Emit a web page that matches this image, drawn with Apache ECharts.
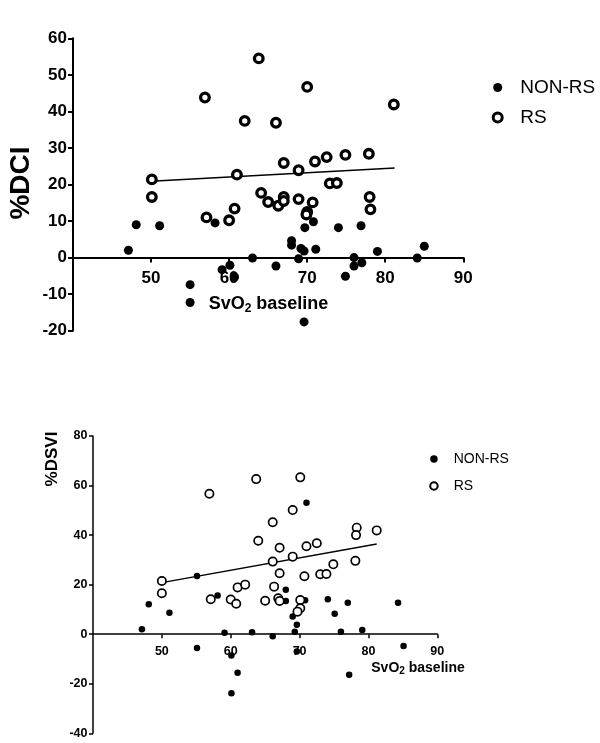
<!DOCTYPE html>
<html>
<head>
<meta charset="utf-8">
<script src="https://cdn.jsdelivr.net/npm/echarts@6/dist/echarts.min.js"></script>
<style>html,body{margin:0;padding:0;background:#fff}#c{width:600px;height:743px}</style>
</head>
<body>
<div id="c"></div>
<script>
// ---- Data: %DCI vs SvO2 baseline ----
const dciNonRS = [[47.1,2.0],[48.1,9.0],[51.1,8.7],[55.0,-7.4],[55.0,-12.3],[58.2,9.5],[59.1,-3.3],[60.1,-2.1],[60.7,-5.3],[63.0,-0.1],[66.0,-2.3],[68.0,4.6],[68.0,3.4],[69.7,8.2],[69.2,2.5],[69.6,1.8],[68.9,-0.3],[69.6,-17.6],[70.8,9.8],[71.1,2.3],[74.0,8.2],[74.9,-5.1],[76.0,0.0],[76.0,-2.3],[77.0,-1.4],[76.9,8.7],[79.0,1.7],[84.1,-0.1],[85.0,3.1]];
const dciRS = [[63.8,54.5],[56.9,43.8],[70.0,46.7],[81.1,41.9],[62.0,37.4],[66.0,36.9],[50.1,21.4],[50.1,16.6],[61.0,22.7],[67.0,25.9],[68.9,23.9],[71.0,26.3],[72.5,27.5],[74.9,28.1],[77.9,28.4],[72.9,20.3],[73.8,20.4],[64.1,17.7],[65.0,15.2],[66.3,14.2],[67.0,16.6],[67.0,15.5],[68.9,16.0],[70.7,15.1],[70.0,12.5],[69.9,11.8],[78.0,16.6],[78.1,13.2],[57.1,11.0],[60.0,10.2],[60.7,13.4]];
const dciFit = [[50,20.9],[81.2,24.5]];
const dciYTicks = [-20,-10,0,10,20,30,40,50,60];

// ---- Data: %DSVI vs SvO2 baseline ----
const dsviNonRS = [[47.1,2.0],[48.1,12.1],[51.1,8.7],[55.1,23.5],[55.1,-5.6],[58.1,15.6],[59.1,0.6],[60.1,-8.6],[61.0,-15.6],[60.1,-23.8],[63.1,0.8],[66.1,-0.8],[68.0,17.9],[68.0,13.4],[69.0,7.1],[69.6,3.8],[69.3,1.0],[69.6,-7.0],[71.0,53.1],[70.8,13.7],[74.1,14.1],[75.1,8.3],[76.0,1.0],[77.0,12.7],[77.2,-16.4],[79.1,1.7],[84.3,12.7],[85.1,-4.8]];
const dsviRS = [[63.7,62.6],[70.1,63.3],[56.9,56.7],[69.0,50.1],[66.1,45.2],[78.3,43.0],[78.2,40.0],[81.2,41.9],[64.0,37.7],[67.1,34.9],[71.0,35.5],[72.5,36.7],[66.1,29.3],[69.0,31.3],[78.1,29.6],[74.9,28.2],[73.0,24.2],[73.9,24.3],[67.1,24.6],[70.7,23.4],[50.0,21.5],[50.0,16.5],[61.0,18.9],[62.1,20.0],[66.3,19.2],[57.1,14.1],[60.0,14.0],[60.8,12.3],[65.0,13.5],[66.9,14.5],[67.1,13.4],[70.1,13.8],[70.1,10.5],[69.7,9.1]];
const dsviFit = [[50,20.8],[81.2,36.4]];
const dsviYTicks = [-40,-20,0,20,40,60,80];

const xTicks = [40,50,60,70,80,90];
const seriesNames = ['NON-RS','RS'];
const xTitle = 'SvO{s|2} baseline';

const FONT = 'Liberation Sans, Arial, sans-serif';
const chart = echarts.init(document.getElementById('c'), null, {renderer:'canvas'});

const grids = [
  {left:73, top:38.3, width:390.3, height:292.4},
  {left:93, top:436, width:344.3, height:297.3}
];
// place the x axis on the y=0 line (offset from grid bottom, computed from the y range)
function zeroOffset(ticks, h) {
  const lo = ticks[0], hi = ticks[ticks.length-1];
  return -((0 - lo) / (hi - lo)) * h;
}

function xAx(gi, fs, lw, tl, margin, off) {
  return {
    type:'value', gridIndex:gi, position:'bottom', offset:off,
    min:xTicks[0], max:xTicks[xTicks.length-1], interval:10,
    axisLine:{show:true, onZero:false, lineStyle:{color:'#000', width:lw}},
    axisTick:{show:true, length:tl, lineStyle:{color:'#000', width:lw}},
    axisLabel:{show:true, showMinLabel:false, margin:margin, color:'#000', fontSize:fs, fontWeight:'bold', fontFamily:FONT},
    splitLine:{show:false}
  };
}
function yAx(gi, ticks, fs, lw, tl, margin, interval) {
  return {
    type:'value', gridIndex:gi, min:ticks[0], max:ticks[ticks.length-1], interval:interval,
    axisLine:{show:true, onZero:false, lineStyle:{color:'#000', width:lw}},
    axisTick:{show:true, length:tl, lineStyle:{color:'#000', width:lw}},
    axisLabel:{show:true, margin:margin, color:'#000', fontSize:fs, fontWeight:'bold', fontFamily:FONT},
    splitLine:{show:false}
  };
}

const option = {
  backgroundColor:'#fff',
  animation:false,
  grid:grids.map(g => Object.assign({containLabel:false, outerBoundsMode:'none'}, g)),
  xAxis:[
    xAx(0, 17, 2, 5, 12, zeroOffset(dciYTicks, grids[0].height)),
    xAx(1, 12.5, 1.5, 4, 10.5, zeroOffset(dsviYTicks, grids[1].height))
  ],
  yAxis:[ yAx(0, dciYTicks, 17, 2, 5, 6, 10), yAx(1, dsviYTicks, 12.5, 1.5, 4, 5.5, 20) ],
  legend:[
    {orient:'vertical', left:491.7, top:78, padding:0, itemWidth:9, itemHeight:9, itemGap:11,
     textStyle:{color:'#000', fontSize:19, fontFamily:FONT, padding:[0,0,0,13]},
     data:[{name:seriesNames[0], itemStyle:{color:'#000', borderWidth:0}},
           {name:seriesNames[1], itemStyle:{color:'#fff', borderColor:'#000', borderWidth:3}}]},
    {orient:'vertical', left:429.2, top:452, padding:0, itemWidth:7.5, itemHeight:7.5, itemGap:13,
     textStyle:{color:'#000', fontSize:14, fontFamily:FONT, padding:[0,0,0,11]},
     data:[{name:seriesNames[0], itemStyle:{color:'#000', borderWidth:0}},
           {name:seriesNames[1], itemStyle:{color:'#fff', borderColor:'#000', borderWidth:2}}]}
  ],
  graphic:[
    {type:'text', x:268.5, y:304, style:{text:xTitle, textAlign:'center', textVerticalAlign:'middle', fill:'#000',
      fontSize:18, fontWeight:'bold', fontFamily:FONT,
      rich:{s:{fontSize:12, fontWeight:'bold', fontFamily:FONT, fill:'#000', padding:[9,0,0,0]}}}},
    {type:'text', x:418, y:668, style:{text:xTitle, textAlign:'center', textVerticalAlign:'middle', fill:'#000',
      fontSize:14, fontWeight:'bold', fontFamily:FONT,
      rich:{s:{fontSize:10, fontWeight:'bold', fontFamily:FONT, fill:'#000', padding:[7,0,0,0]}}}},
    {type:'text', x:21, y:183, rotation:Math.PI/2, style:{text:'%DCI', textAlign:'center', textVerticalAlign:'middle', fill:'#000',
      fontSize:28, fontWeight:'bold', fontFamily:FONT}},
    {type:'text', x:52.5, y:459, rotation:Math.PI/2, style:{text:'%DSVI', textAlign:'center', textVerticalAlign:'middle', fill:'#000',
      fontSize:17, fontWeight:'bold', fontFamily:FONT}}
  ],
  series:[
    {type:'line', xAxisIndex:0, yAxisIndex:0, data:dciFit, symbol:'none', lineStyle:{color:'#000', width:1.5}, silent:true, z:1},
    {name:seriesNames[0], type:'scatter', xAxisIndex:0, yAxisIndex:0, data:dciNonRS, symbol:'circle', symbolSize:9, itemStyle:{color:'#000', opacity:1}, z:2},
    {name:seriesNames[1], type:'scatter', xAxisIndex:0, yAxisIndex:0, data:dciRS, symbol:'circle', symbolSize:8.6, itemStyle:{color:'#fff', borderColor:'#000', borderWidth:3.3, opacity:1}, z:3},
    {type:'line', xAxisIndex:1, yAxisIndex:1, data:dsviFit, symbol:'none', lineStyle:{color:'#000', width:1.4}, silent:true, z:1},
    {name:seriesNames[0], type:'scatter', xAxisIndex:1, yAxisIndex:1, data:dsviNonRS, symbol:'circle', symbolSize:6.5, itemStyle:{color:'#000', opacity:1}, z:2},
    {name:seriesNames[1], type:'scatter', xAxisIndex:1, yAxisIndex:1, data:dsviRS, symbol:'circle', symbolSize:8.3, itemStyle:{color:'#fff', borderColor:'#000', borderWidth:1.7, opacity:1}, z:3}
  ]
};
chart.setOption(option);
</script>
</body>
</html>
